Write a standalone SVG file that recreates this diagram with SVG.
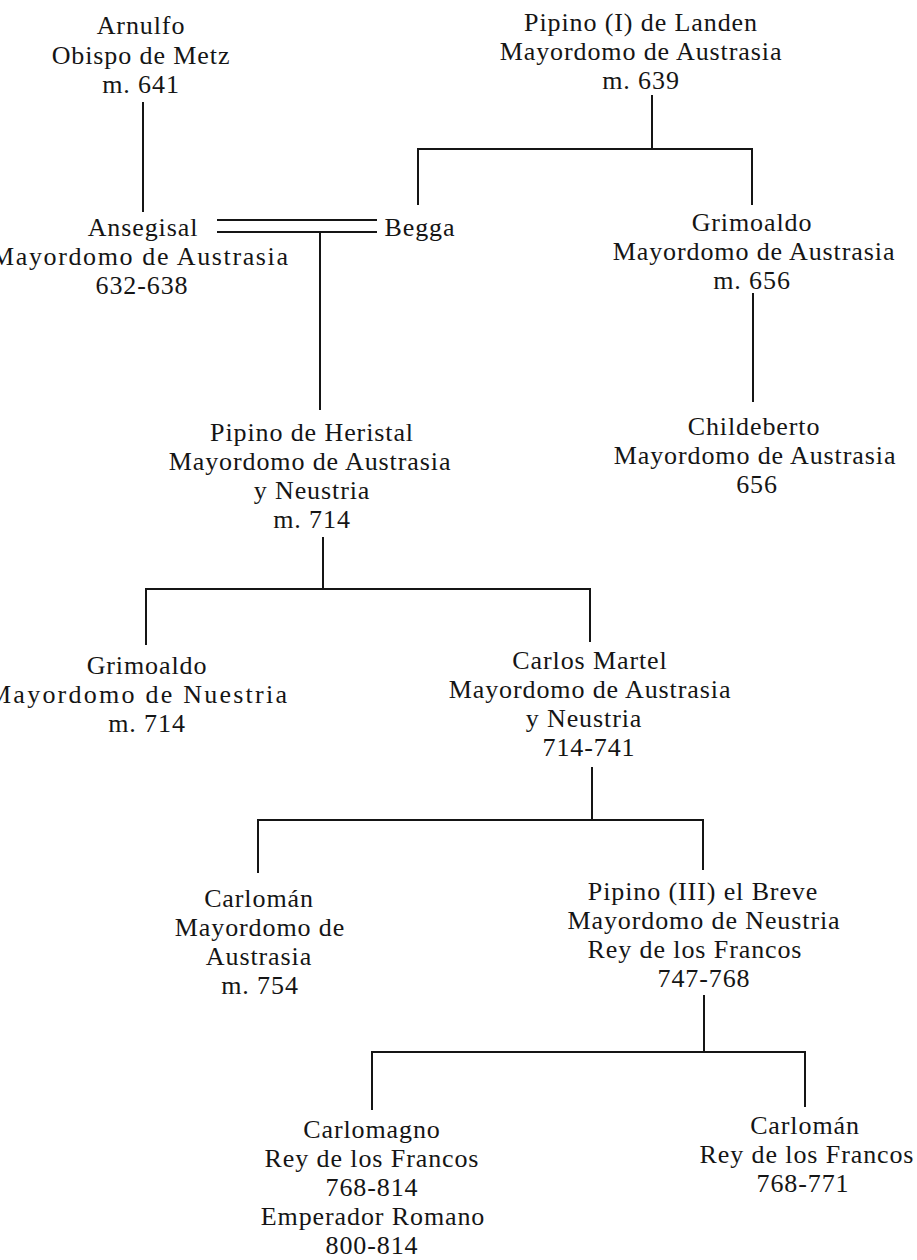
<svg xmlns="http://www.w3.org/2000/svg" width="917" height="1260" viewBox="0 0 917 1260">
<style>
text{font-family:"Liberation Serif","Times New Roman",serif;font-size:26px;letter-spacing:0.9px;fill:#151515;text-anchor:middle}
.ln{stroke:#151515;stroke-width:2;fill:none}
</style>
<rect width="917" height="1260" fill="#ffffff"/>
<g id="connectors" class="ln">
<path d="M143 102V212"/>
<path d="M652 95V149M418 205V149H752V205"/>
<path d="M217 220H377M217 232H377M320 232V410"/>
<path d="M753 293V402"/>
<path d="M323 537V589M146 645V589H590V642"/>
<path d="M592 767V820M258 873V820H703V870"/>
<path d="M704 995V1052M372 1110V1052H805V1107"/>
</g>
<g id="arnulfo"><text x="141" y="34">Arnulfo</text><text x="141" y="64">Obispo de Metz</text><text x="141" y="93">m. 641</text></g>
<g id="pipino1"><text x="641" y="31">Pipino (I) de Landen</text><text x="641" y="60">Mayordomo de Austrasia</text><text x="641" y="89">m. 639</text></g>
<g id="ansegisal"><text x="143" y="236">Ansegisal</text><text x="-9" y="265" style="text-anchor:start;letter-spacing:0" textLength="297" lengthAdjust="spacing">Mayordomo de Austrasia</text><text x="142" y="294">632-638</text></g>
<g id="begga"><text x="420" y="236">Begga</text></g>
<g id="grimoaldo1"><text x="752" y="231">Grimoaldo</text><text x="754" y="260">Mayordomo de Austrasia</text><text x="752" y="289">m. 656</text></g>
<g id="childeberto"><text x="754" y="435">Childeberto</text><text x="755" y="464">Mayordomo de Austrasia</text><text x="757" y="493">656</text></g>
<g id="pipinoheristal"><text x="312" y="441">Pipino de Heristal</text><text x="310" y="470">Mayordomo de Austrasia</text><text x="312" y="499">y Neustria</text><text x="312" y="528">m. 714</text></g>
<g id="grimoaldo2"><text x="147" y="674">Grimoaldo</text><text x="-12" y="703" style="text-anchor:start;letter-spacing:0" textLength="299" lengthAdjust="spacing">Mayordomo de Nuestria</text><text x="147" y="732">m. 714</text></g>
<g id="carlosmartel"><text x="590" y="669">Carlos Martel</text><text x="590" y="698">Mayordomo de Austrasia</text><text x="584" y="727">y Neustria</text><text x="589" y="756">714-741</text></g>
<g id="carloman1"><text x="259" y="907">Carlomán</text><text x="260" y="936">Mayordomo de</text><text x="259" y="965">Austrasia</text><text x="260" y="994">m. 754</text></g>
<g id="pipino3"><text x="703" y="900">Pipino (III) el Breve</text><text x="704" y="929">Mayordomo de Neustria</text><text x="695" y="958">Rey de los Francos</text><text x="704" y="987">747-768</text></g>
<g id="carlomagno"><text x="372" y="1138">Carlomagno</text><text x="372" y="1167">Rey de los Francos</text><text x="372" y="1196">768-814</text><text x="373" y="1225">Emperador Romano</text><text x="372" y="1254">800-814</text></g>
<g id="carloman2"><text x="805" y="1134">Carlomán</text><text x="807" y="1163">Rey de los Francos</text><text x="803" y="1192">768-771</text></g>
</svg>
